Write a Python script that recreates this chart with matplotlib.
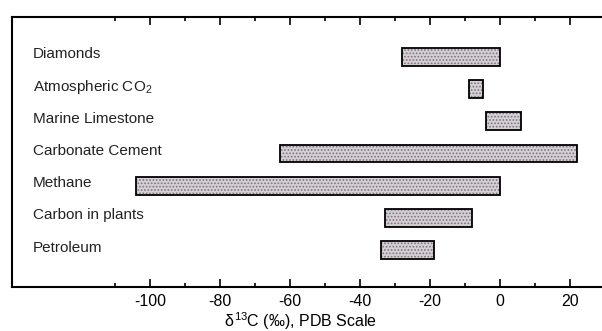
import matplotlib
matplotlib.use("Agg")
import matplotlib.pyplot as plt
from matplotlib.ticker import FixedLocator

plt.rcParams["font.family"] = ["Liberation Sans", "DejaVu Sans"]
plt.rcParams["mathtext.fontset"] = "custom"
plt.rcParams["mathtext.rm"] = "Liberation Sans"
plt.rcParams["mathtext.it"] = "Liberation Sans"
plt.rcParams["hatch.linewidth"] = 0.8

# delta 13C ranges (per mil, PDB scale)
sources = ["Diamonds", "Atmospheric CO$_2$", "Marine Limestone",
           "Carbonate Cement", "Methane", "Carbon in plants", "Petroleum"]
low = [-28, -9, -4, -63, -104, -33, -34]
high = [0, -5, 6, 22, 0, -8, -19]
ticks = [-100, -80, -60, -40, -20, 0, 20]
minor_ticks = [-110, -90, -70, -50, -30, -10, 10]

fig = plt.figure(figsize=(6.02, 3.31), dpi=100)
ax = fig.add_axes([0.02, 0.133, 0.98, 0.816])

rows = list(range(len(sources)))
widths = [h - l for l, h in zip(low, high)]

# stippled fill, then black outline on top
ax.barh(rows, widths, left=low, height=0.55, color="#d6d0d6",
        edgecolor="#7a747a", hatch=".....", linewidth=0, zorder=2)
ax.barh(rows, widths, left=low, height=0.55, fill=False,
        edgecolor="black", linewidth=1.3, zorder=3)

for r, name in zip(rows, sources):
    ax.text(-133.5, r - 0.08, name, ha="left", va="center", fontsize=11,
            color="#222222")

ax.set_xlim(-139.4, 29.1)
ax.set_ylim(7.14, -1.24)
ax.set_yticks([])
ax.set_xticks(ticks)
ax.set_xticklabels([str(t) for t in ticks], fontsize=11.5)
ax.xaxis.set_minor_locator(FixedLocator(minor_ticks))
ax.tick_params(axis="x", which="major", direction="in", length=6, width=1.2,
               top=True, bottom=True, pad=5)
ax.tick_params(axis="x", which="minor", direction="in", length=3, width=1.2,
               top=True, bottom=True)

ax.spines["right"].set_visible(False)
for side in ("left", "top", "bottom"):
    ax.spines[side].set_linewidth(1.5)

fig.text(0.5, 1 - 321 / 331, r"$\delta^{\mathregular{13}}$C (‰), PDB Scale",
         ha="center", va="center", fontsize=11.5)

fig.savefig("out.png", dpi=100)
